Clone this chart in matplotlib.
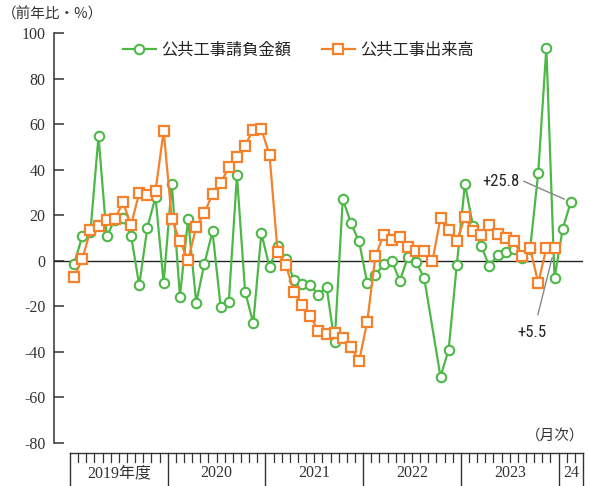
import numpy as np
import matplotlib
matplotlib.use("Agg")
import matplotlib.pyplot as plt
from matplotlib.lines import Line2D
from matplotlib.transforms import blended_transform_factory
from matplotlib import font_manager

# ---------------- data ----------------
year_labels = ['2019年度', '2020', '2021', '2022', '2023', '24']
year_months = [12, 12, 12, 12, 12, 3]

series_names = ['公共工事請負金額', '公共工事出来高']

# 公共工事請負金額 (前年比 %), one value per month; None = no marker
contracts = [-1.4, 10.7, 12.5, 54.6, 10.7, 18.0, 18.7, 11.0, -10.8, 14.6,
             28.0, -9.8, 33.8, -15.7, 18.3, -18.4, -1.3, 12.9, -20.2, -18.0,
             37.5, -13.5, -27.4, 12.1, -2.8, 6.3, 0.9, -8.3, -10.3, -10.7,
             -14.9, -11.3, -35.8, 27.1, 16.5, 8.5, -9.8, -6.4, -1.6, 0.1,
             -8.8, 1.6, -0.5, -7.6, None, -50.9, -39.0, -1.8, 33.8, 15.1,
             6.6, -2.5, 2.6, 3.8, 5.1, 1.2, 5.0, 38.5, 93.6, -7.6,
             13.9, 25.8]

# 公共工事出来高 (前年比 %)
output = [-7.3, 0.7, 13.3, 15.4, 18.0, 18.3, 25.6, 15.8, 29.7, 28.8,
          30.6, 57.0, 18.4, 8.5, 0.3, 15.0, 20.9, 29.4, 34.1, 41.0,
          45.4, 50.6, 57.6, 57.8, 46.5, 3.8, -1.7, -13.6, -19.2, -24.4,
          -30.7, -32.3, -31.8, -33.7, -37.8, -44.2, -26.8, 1.9, 11.3, 9.2,
          10.4, 6.2, 4.4, 4.1, -0.3, 18.7, 13.6, 8.5, 19.2, 12.9,
          11.1, 15.8, 11.7, 9.9, 8.5, 2.2, 5.6, -9.8, 5.6, 5.5]

yticks = [-80, -60, -40, -20, 0, 20, 40, 60, 80, 100]
ylabel = '（前年比・%）'
xlabel_unit = '（月次）'
labels_end = ['+25.8', '+5.5']

# ---------------- style ----------------
GREEN = '#4db848'
ORANGE = '#f5822a'
TXT = '#333333'
avail = {f.name for f in font_manager.fontManager.ttflist}


def first_avail(cands, default):
    for c in cands:
        if c in avail:
            return c
    return default


SERIF_NAME = first_avail(['Liberation Serif', 'DejaVu Serif'], 'DejaVu Serif')
JP = ['Noto Sans CJK JP', 'DejaVu Sans']
NARROW = first_avail(['Liberation Sans Narrow', 'Roboto Condensed',
                      'DejaVu Sans Condensed', 'Roboto'], 'DejaVu Sans')

W, H = 589, 486
fig = plt.figure(figsize=(W / 100, H / 100), dpi=100)

n_months = sum(year_months)
x_left = -0.5 - 16 / 8.14
x_right = n_months - 0.5
ax = fig.add_axes([54 / W, 1 - 443 / H, (583 - 54) / W, (443 - 33) / H])
ax.set_xlim(x_left, x_right)
ax.set_ylim(-80, 100)

# series
gx = [i for i, v in enumerate(contracts) if v is not None]
gy = [v for v in contracts if v is not None]
ox = np.arange(len(output))

ax.plot(gx, gy, color=GREEN, lw=1.6, marker='o', ms=6.8, mfc='white',
        mec=GREEN, mew=1.5, zorder=3, label=series_names[0])
ax.plot(ox, output, color=ORANGE, lw=1.6, marker='s', ms=6.8, mfc='white',
        mec=ORANGE, mew=1.6, zorder=4, label=series_names[1])

ax.axhline(0, color='#222222', lw=1.0, zorder=2)

# axes styling
for s in ['top', 'right', 'bottom']:
    ax.spines[s].set_visible(False)
ax.spines['left'].set_color('#333333')
ax.spines['left'].set_linewidth(1.1)
ax.set_xticks([])
ax.tick_params(axis='y', direction='in', length=7, width=1.1,
               color='#333333', pad=6, labelsize=11.5, labelcolor=TXT)
ax.set_yticks(yticks)
ax.set_yticklabels([str(t) for t in yticks], fontfamily=SERIF_NAME,
                   fontsize=11.5, color=TXT)

# legend
leg = ax.legend(loc='center left', bbox_to_anchor=(123 / W, 1 - 50 / H),
                bbox_transform=fig.transFigure, ncol=2, frameon=False,
                prop={'family': JP, 'size': 11.7}, handlelength=2.0,
                handletextpad=0.35, columnspacing=1.9, borderpad=0,
                borderaxespad=0)
for t in leg.get_texts():
    t.set_color('#222222')

# annotations for the latest values
g_last_i = gx[-1]
o_last_i = len(output) - 1
ax.annotate('', xy=(g_last_i, gy[-1]), xytext=(-34, 15),
            textcoords='offset points',
            arrowprops=dict(arrowstyle='-', color='#888888', lw=1.0,
                            shrinkA=0, shrinkB=5))
ax.annotate(labels_end[0], xy=(g_last_i, gy[-1]), xytext=(-37, 15),
            textcoords='offset points', ha='right', va='center',
            fontsize=12, family=NARROW, color='#222222')
ax.annotate('', xy=(o_last_i, output[-1]), xytext=(-12, -48),
            textcoords='offset points',
            arrowprops=dict(arrowstyle='-', color='#888888', lw=1.0,
                            shrinkA=0, shrinkB=7))
ax.annotate(labels_end[1], xy=(o_last_i, output[-1]), xytext=(-16, -61),
            textcoords='offset points', ha='center', va='center',
            fontsize=12, family=NARROW, color='#222222')

# axis captions
fig.text(2 / W, 1 - 14 / H, ylabel, ha='left', va='center',
         fontfamily=JP, fontsize=10.5, color=TXT)
fig.text(584 / W, 1 - 437 / H, xlabel_unit, ha='right', va='center',
         fontfamily=JP, fontsize=10.5, color=TXT)

# month/year table under the chart
trans = blended_transform_factory(ax.transData, fig.transFigure)
y_top = 1 - 453 / H
y_tick = 1 - 462 / H
y_bot = 0.0
LC = '#333333'
fig.add_artist(Line2D([-0.5, n_months - 0.5], [y_top, y_top],
                      transform=trans, color=LC, lw=1.0))
bounds = np.cumsum([0] + year_months)
for k in range(n_months + 1):
    xb = k - 0.5
    if k in bounds:
        fig.add_artist(Line2D([xb, xb], [y_top, y_bot], transform=trans,
                              color=LC, lw=1.0))
    else:
        fig.add_artist(Line2D([xb, xb], [y_top, y_tick], transform=trans,
                              color=LC, lw=0.9))
for lab, b0, b1 in zip(year_labels, bounds[:-1], bounds[1:]):
    xc = (b0 + b1) / 2 - 0.5
    fig.text(xc, 1 - 473 / H, lab, transform=trans, ha='center',
             va='center', fontfamily=[SERIF_NAME, 'Noto Sans CJK JP'],
             fontsize=11.5, color=TXT)

fig.savefig('out.png', dpi=100)
